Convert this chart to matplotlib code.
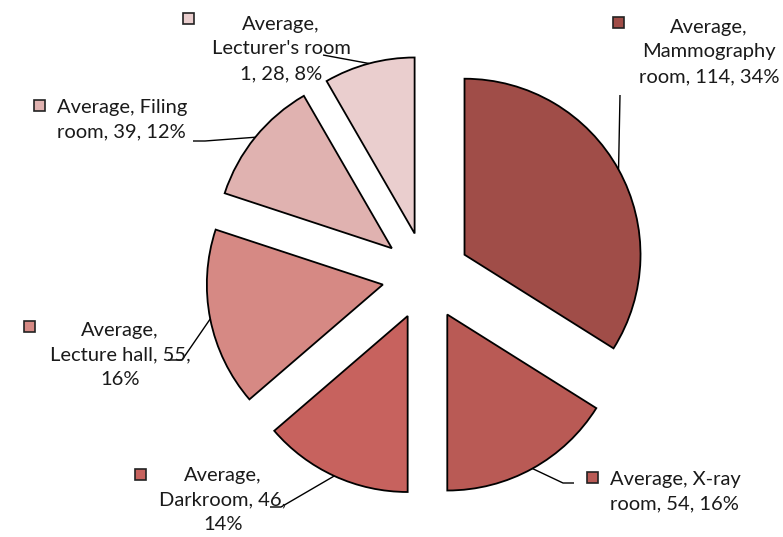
import numpy as np
import matplotlib
matplotlib.use("Agg")
import matplotlib.pyplot as plt
from matplotlib.patches import Rectangle

plt.rcParams['font.family'] = ['Lato', 'DejaVu Sans']

categories = ["Mammography room", "X-ray room", "Darkroom", "Lecture hall", "Filing room", "Lecturer's room 1"]
values = [114, 54, 46, 55, 39, 28]
colors = ["#A04D48", "#B95A55", "#C7625E", "#D68984", "#E0B2B0", "#EACECE"]

W, H = 783, 537
fig = plt.figure(figsize=(W / 100, H / 100), dpi=100)
ax = fig.add_axes([0, 0, 1, 1])

cx, cy = 426, H - 276
R = 176
EXP = 44
wedges, _ = ax.pie(values, colors=colors, startangle=90, counterclock=False,
                   radius=R, center=(cx, cy), explode=[EXP] * len(values),
                   wedgeprops=dict(edgecolor="black", linewidth=1.3))
ax.set_xlim(0, W)
ax.set_ylim(0, H)
ax.set_aspect('equal')
ax.axis('off')

total = sum(values)
pcts = [round(v / total * 100) for v in values]

layout = [
    dict(text="Average,\nMammography\nroom, {v}, {p}%", x=709, y=52, ha="center", sq=(618, 22),
         lead=[(620, 95)]),
    dict(text="Average, X-ray\nroom, {v}, {p}%", x=610, y=492, ha="left", sq=(592, 477),
         lead=[(574, 483), (563, 483)]),
    dict(text="Average,\nDarkroom, {v},\n{p}%", x=223, y=500, ha="center", sq=(140, 474),
         lead=[(270, 507), (281, 507)]),
    dict(text="Average,\nLecture hall, {v},\n{p}%", x=120, y=355, ha="center", sq=(29, 326),
         lead=[(168, 360), (182, 360)]),
    dict(text="Average, Filing\nroom, {v}, {p}%", x=57, y=120, ha="left", sq=(39, 105),
         lead=[(193, 141), (205, 141)]),
    dict(text="Average,\nLecturer's room\n1, {v}, {p}%", x=281, y=49, ha="center", sq=(188, 18),
         lead=[(323, 55)]),
]

for w, v, p, col, lay in zip(wedges, values, pcts, colors, layout):
    ang = np.deg2rad((w.theta1 + w.theta2) / 2)
    wx, wy = w.center
    ex, ey = wx + R * np.cos(ang), wy + R * np.sin(ang)
    xs = [q[0] for q in lay["lead"]] + [ex]
    ys = [H - q[1] for q in lay["lead"]] + [ey]
    ax.plot(xs, ys, color="black", lw=1.0, solid_capstyle="butt")
    ax.text(lay["x"], H - lay["y"], lay["text"].format(v=v, p=p), ha=lay["ha"], va="center",
            multialignment="center" if lay["ha"] == "center" else "left",
            fontsize=14.5, linespacing=1.55, color="#1a1a1a")
    sx, sy = lay["sq"]
    ax.add_patch(Rectangle((sx - 5.5, H - sy - 5.5), 11, 11, facecolor=col,
                           edgecolor="#222222", lw=1.2))

fig.savefig("out.png", dpi=100)
